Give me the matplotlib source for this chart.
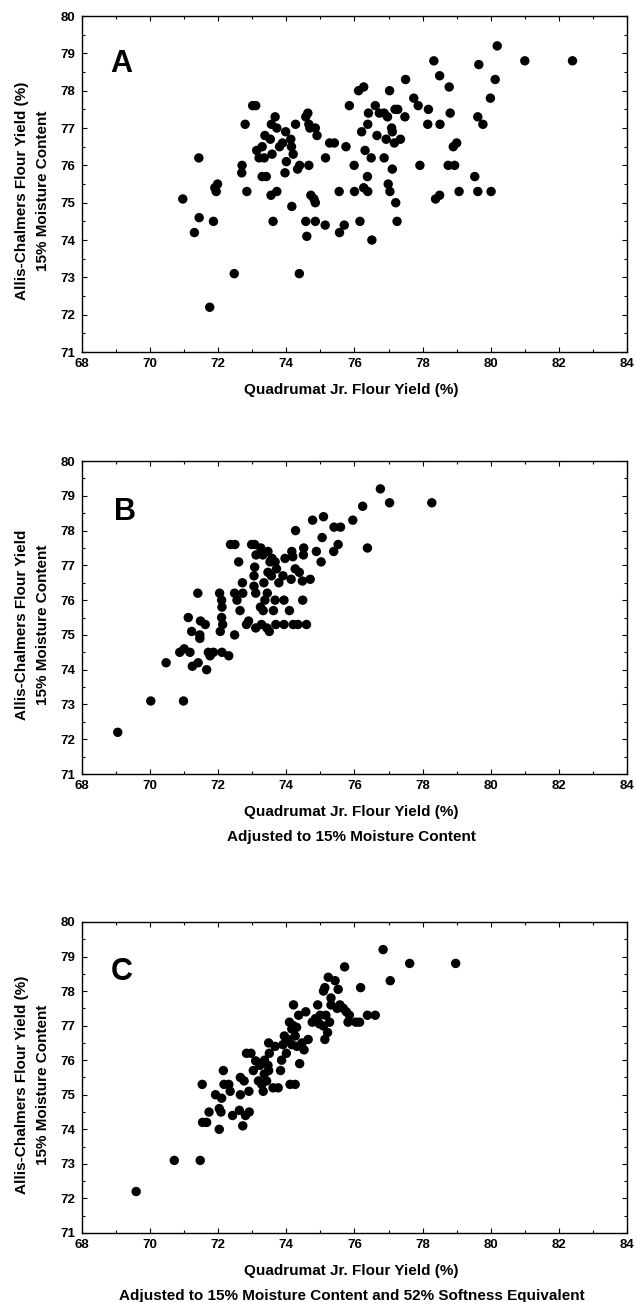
import matplotlib
matplotlib.use("Agg")
import matplotlib.pyplot as plt
from matplotlib.ticker import MultipleLocator

plt.rcParams['font.family'] = ['Liberation Sans', 'DejaVu Sans']
plt.rcParams['font.weight'] = 'bold'

# ---------------- Data ----------------
a_x = [70.96, 71.43, 71.3, 71.44, 71.75, 71.86, 71.9, 71.98, 71.94, 72.47, 72.7, 72.69, 72.79, 72.84,
       73.01, 73.1, 73.13, 73.2, 73.29, 73.41, 73.29, 73.35, 73.37, 73.53, 73.56, 73.67, 73.72, 73.55,
       73.72, 73.61, 73.58, 73.8, 73.89, 73.98, 74.0, 73.96, 74.13, 74.15, 74.2, 74.16, 74.27, 74.33,
       74.39, 74.38, 74.57, 74.63, 74.66, 74.69, 74.66, 74.57, 74.6, 74.72, 74.81, 74.85, 74.85, 74.9,
       74.85, 75.14, 75.15, 75.27, 75.41, 75.55, 75.56, 75.7, 75.75, 75.85, 75.99, 76.0, 76.12, 76.27,
       76.16, 76.21, 76.27, 76.31, 76.38, 76.39, 76.39, 76.41, 76.49, 76.51, 76.61, 76.66, 76.73, 76.87,
       76.87, 76.97, 76.93, 76.99, 77.04, 77.03, 77.09, 77.11, 77.11, 77.17, 77.21, 77.19, 77.27, 77.25,
       77.35, 77.48, 77.5, 77.74, 77.87, 77.92, 78.17, 78.15, 78.33, 78.38, 78.5, 78.5, 78.51, 78.75,
       78.78, 78.81, 78.94, 78.9, 79.0, 79.07, 79.53, 79.62, 79.65, 79.62, 79.77, 79.99, 80.01, 80.13,
       80.19, 81.0, 82.4]
a_y = [75.1, 76.2, 74.2, 74.6, 72.2, 74.5, 75.4, 75.5, 75.3, 73.1, 76.0, 75.8, 77.1, 75.3,
       77.6, 77.6, 76.4, 76.2, 75.7, 75.7, 76.5, 76.2, 76.8, 76.7, 77.1, 77.3, 77.0, 75.2,
       75.3, 74.5, 76.3, 76.5, 76.6, 76.9, 76.1, 75.8, 76.7, 76.5, 76.3, 74.9, 77.1, 75.9,
       76.0, 73.1, 77.3, 77.4, 77.1, 77.0, 76.0, 74.5, 74.1, 75.2, 75.1, 75.0, 77.0, 76.8,
       74.5, 74.4, 76.2, 76.6, 76.6, 75.3, 74.2, 74.4, 76.5, 77.6, 76.0, 75.3, 78.0, 78.1,
       74.5, 76.9, 75.4, 76.4, 75.7, 75.3, 77.1, 77.4, 76.2, 74.0, 77.6, 76.8, 77.4, 77.4,
       76.2, 77.3, 76.7, 75.5, 75.3, 78.0, 77.0, 76.9, 75.9, 76.6, 75.0, 77.5, 77.5, 74.5,
       76.7, 77.3, 78.3, 77.8, 77.6, 76.0, 77.5, 77.1, 78.8, 75.1, 75.2, 78.4, 77.1, 76.0,
       78.1, 77.4, 76.0, 76.5, 76.6, 75.3, 75.7, 75.3, 78.7, 77.3, 77.1, 77.8, 75.3, 78.3,
       79.2, 78.8, 78.8]

b_x = [69.05, 70.02, 70.98, 70.47, 70.87, 71.0, 71.17, 71.24, 71.41, 71.12, 71.22, 71.46, 71.46,
       71.48, 71.62, 71.4, 71.66, 71.71, 71.76, 71.86, 72.11, 72.31, 72.04, 72.1, 72.11, 72.1, 72.13,
       72.06, 72.48, 72.36, 72.49, 72.6, 72.48, 72.55, 72.64, 72.71, 72.72, 72.83, 72.89, 72.98, 73.07,
       73.05, 73.05, 73.1, 73.07, 73.11, 73.1, 73.25, 73.24, 73.27, 73.32, 73.34, 73.31, 73.37, 73.44,
       73.43, 73.5, 73.46, 73.46, 73.52, 73.56, 73.58, 73.62, 73.67, 73.67, 73.69, 73.71, 73.78, 73.9,
       73.93, 73.93, 73.96, 74.09, 74.14, 74.16, 74.19, 74.2, 74.27, 74.34, 74.26, 74.38, 74.47, 74.48,
       74.51, 74.5, 74.59, 74.7, 74.77, 74.88, 75.02, 75.05, 75.09, 75.39, 75.4, 75.52, 75.59, 75.95,
       76.24, 76.38, 76.76, 77.03, 78.27]
b_y = [72.2, 73.1, 73.1, 74.2, 74.5, 74.6, 74.5, 74.1, 74.2, 75.5, 75.1, 75.0, 74.9,
       75.4, 75.3, 76.2, 74.0, 74.5, 74.4, 74.5, 74.5, 74.4, 76.2, 76.0, 75.8, 75.5, 75.3,
       75.1, 75.0, 77.6, 77.6, 77.1, 76.2, 76.0, 75.7, 76.5, 76.2, 75.3, 75.4, 77.6, 77.6,
       76.7, 76.4, 76.2, 76.95, 77.3, 75.2, 77.5, 75.8, 75.3, 75.7, 76.5, 77.3, 76.0, 76.2,
       75.2, 75.1, 77.4, 76.8, 77.1, 76.7, 77.2, 75.7, 76.0, 77.1, 75.3, 76.9, 76.5, 76.7,
       76.0, 75.3, 77.2, 75.7, 76.6, 77.4, 77.25, 75.3, 78.0, 75.3, 76.9, 76.8, 76.55, 76.0,
       77.5, 77.3, 75.3, 76.6, 78.3, 77.4, 77.1, 77.8, 78.4, 77.4, 78.1, 77.6, 78.1, 78.3,
       78.7, 77.5, 79.2, 78.8, 78.8]

c_x = [69.59, 70.71, 71.47, 71.53, 71.54, 71.66, 71.73, 71.92, 72.03, 72.08, 72.03, 72.1, 72.15,
       72.17, 72.31, 72.35, 72.42, 72.62, 72.65, 72.65, 72.76, 72.72, 72.8, 72.91, 72.9, 72.83, 72.96,
       73.03, 73.1, 73.18, 73.22, 73.28, 73.32, 73.35, 73.36, 73.42, 73.46, 73.48, 73.5, 73.48, 73.61,
       73.67, 73.76, 73.83, 73.86, 73.9, 73.94, 74.0, 74.05, 74.09, 74.11, 74.16, 74.16, 74.2, 74.26,
       74.21, 74.26, 74.3, 74.31, 74.36, 74.39, 74.46, 74.52, 74.57, 74.64, 74.76, 74.85, 74.92, 74.97,
       74.99, 75.09, 75.09, 75.13, 75.13, 75.16, 75.21, 75.23, 75.27, 75.31, 75.31, 75.43, 75.49, 75.52,
       75.57, 75.67, 75.71, 75.76, 75.81, 75.85, 76.04, 76.15, 76.18, 76.38, 76.61, 76.84, 77.05, 77.62,
       78.97]
c_y = [72.2, 73.1, 73.1, 75.3, 74.2, 74.2, 74.5, 75.0, 74.6, 74.5, 74.0, 74.9, 75.7,
       75.3, 75.3, 75.1, 74.4, 74.55, 75.0, 75.5, 75.4, 74.1, 74.4, 74.5, 75.1, 76.2, 76.2,
       75.7, 75.98, 75.4, 75.85, 75.3, 75.1, 75.6, 76.0, 75.4, 75.85, 76.5, 76.2, 75.7, 75.2,
       76.4, 75.2, 75.7, 76.0, 76.45, 76.7, 76.2, 76.6, 77.1, 75.3, 76.9, 76.45, 77.0, 75.3,
       77.6, 76.7, 76.95, 76.4, 77.3, 75.9, 76.5, 76.3, 77.4, 76.6, 77.1, 77.2, 77.6, 77.05,
       77.3, 76.99, 78.0, 78.1, 76.6, 77.3, 76.8, 78.4, 77.1, 77.6, 77.8, 78.3, 77.5, 78.05,
       77.6, 77.5, 78.7, 77.4, 77.1, 77.3, 77.1, 77.1, 78.1, 77.3, 77.3, 79.2, 78.3, 78.8,
       78.8]

panel_letters = ['A', 'B', 'C']
y_titles = ['Allis-Chalmers Flour Yield (%)', 'Allis-Chalmers Flour Yield',
            'Allis-Chalmers Flour Yield (%)']
y_sub = '15% Moisture Content'
x_titles = [['Quadrumat Jr. Flour Yield (%)'],
            ['Quadrumat Jr. Flour Yield (%)', 'Adjusted to 15% Moisture Content'],
            ['Quadrumat Jr. Flour Yield (%)',
             'Adjusted to 15% Moisture Content and 52% Softness Equivalent']]

rects = [[0.1287, 0.7296, 0.8556, 0.2581],
         [0.1287, 0.4055, 0.8556, 0.2404],
         [0.1287, 0.0530, 0.8556, 0.2389]]
letter_pos = [(0.051, 0.858), (0.059, 0.837), (0.052, 0.840)]

fig = plt.figure(figsize=(6.37, 13.02), dpi=100)

for xs, ys, letter, ylab, xlabs, rect, lp in zip(
        [a_x, b_x, c_x], [a_y, b_y, c_y], panel_letters, y_titles, x_titles, rects, letter_pos):
    ax = fig.add_axes(rect)
    ax.scatter(xs, ys, s=46, color='black', edgecolors='none', zorder=3)
    ax.set_xlim(68, 84)
    ax.set_ylim(71, 80)
    ax.xaxis.set_major_locator(MultipleLocator(2))
    ax.xaxis.set_minor_locator(MultipleLocator(1))
    ax.yaxis.set_major_locator(MultipleLocator(1))
    ax.yaxis.set_minor_locator(MultipleLocator(0.5))
    ax.tick_params(which='both', direction='in', top=True, right=True, width=0.8)
    ax.tick_params(which='major', length=3.5, labelsize=9.5)
    ax.tick_params(axis='x', which='major', pad=4.5)
    ax.tick_params(axis='y', which='major', pad=5)
    ax.tick_params(which='minor', length=2)
    for lab in ax.get_xticklabels() + ax.get_yticklabels():
        lab.set_fontweight('bold')
    for sp in ax.spines.values():
        sp.set_linewidth(1.0)
    ax.text(lp[0], lp[1], letter, transform=ax.transAxes, fontsize=22,
            fontweight='bold', ha='left', va='center')
    for i, t in enumerate(xlabs):
        ax.annotate(t, xy=(0.5, 0), xycoords='axes fraction',
                    xytext=(-2, -27.5 - 18 * i), textcoords='offset points',
                    ha='center', va='center', fontsize=11, fontweight='bold')
    ax.annotate(ylab, xy=(0, 0.5), xycoords='axes fraction',
                xytext=(-43, -5), textcoords='offset points', rotation=90,
                ha='center', va='center', fontsize=11, fontweight='bold')
    ax.annotate(y_sub, xy=(0, 0.5), xycoords='axes fraction',
                xytext=(-28, -5), textcoords='offset points', rotation=90,
                ha='center', va='center', fontsize=11, fontweight='bold')

fig.savefig('out.png', dpi=100)
